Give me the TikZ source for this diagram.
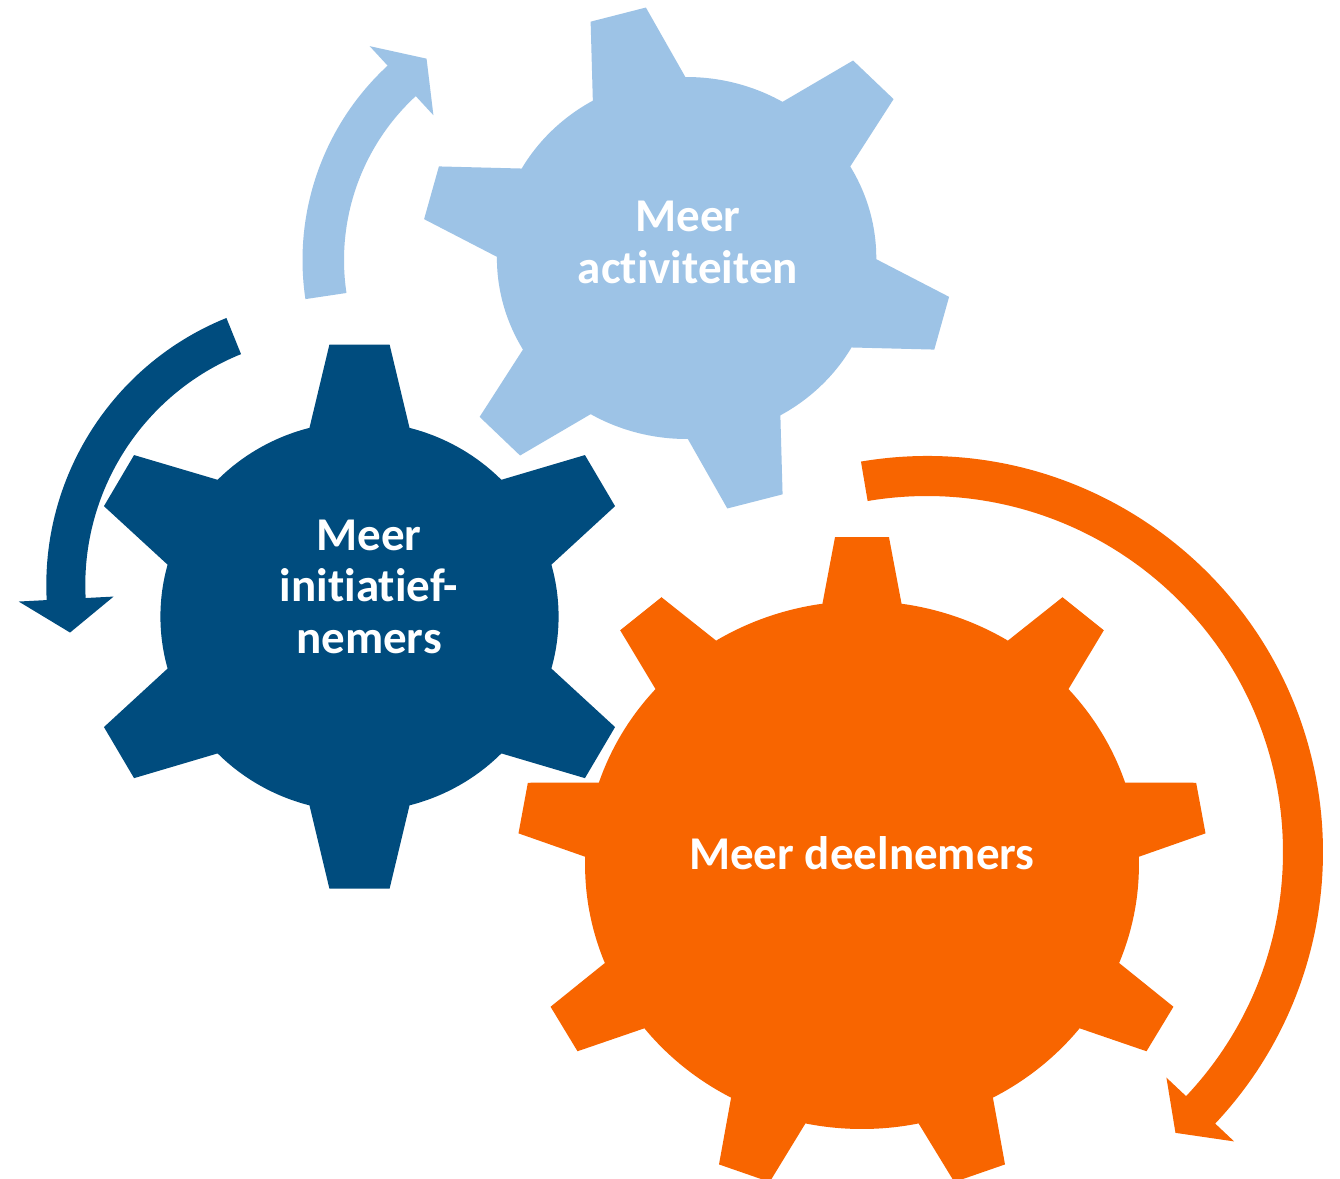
\documentclass[tikz,border=0pt]{standalone}
\usepackage{fontspec}
\setmainfont{Carlito}[Ligatures=NoCommon]
\definecolor{lightgear}{HTML}{9DC3E6}
\definecolor{darkgear}{HTML}{004C7E}
\definecolor{orangegear}{HTML}{F86500}
% #1 colour, #2 teeth, #3 first tooth angle, #4 outer radius, #5 body radius, #6 tip half width, #7 base half width
\newcommand{\drawgear}[7]{%
  \pgfmathsetmacro{\gA}{asin(#7/#5)}%
  \pgfmathsetmacro{\gB}{atan(#6/#4)}%
  \pgfmathsetmacro{\gT}{100*veclen(#4/100,#6/100)}%
  \pgfmathsetmacro{\gS}{360/#2}%
  \fill[#1] ({#3-\gA}:#5)
    \foreach \k in {1,...,#2} {
      -- ({#3+(\k-1)*\gS-\gB}:\gT) -- ({#3+(\k-1)*\gS+\gB}:\gT) -- ({#3+(\k-1)*\gS+\gA}:#5)
      arc[start angle={#3+(\k-1)*\gS+\gA}, end angle={#3+\k*\gS-\gA}, radius=#5]
    } -- cycle;
}
% #1 colour, #2 outer r, #3 inner r, #4 start angle, #5 end angle, #6 outer wing r, #7 inner wing r, #8 tip angle, #9 tip r
\newcommand{\drawarc}[9]{%
  \fill[#1] (#4:#2) arc[start angle=#4, end angle=#5, radius=#2]
    -- (#5:#6) -- (#8:#9) -- (#5:#7) -- (#5:#3)
    arc[start angle=#5, end angle=#4, radius=#3] -- cycle;
}
\tikzset{gearlabel/.style={text=white, font=\bfseries\fontsize{23.5}{25.8}\selectfont, align=center, inner sep=0pt, anchor=base}}
\begin{document}
\begin{tikzpicture}[x=0.5pt, y=0.5pt]
\useasboundingbox (0,0) rectangle (1340,-1179);
\fill[white] (0,0) rectangle (1340,-1179);
% gears
\begin{scope}[shift={(686.6,-258)}, xscale=1.048]
  \drawgear{lightgear}{6}{105}{252}{181}{27.3}{45.7}
\end{scope}
\begin{scope}[shift={(359.5,-616.6)}, xscale=1.021]
  \drawgear{darkgear}{6}{90}{272}{195}{29.5}{49}
\end{scope}
\begin{scope}[shift={(862,-865)}, xscale=1.049]
  \drawgear{orangegear}{9}{90}{328}{264}{25.7}{37.7}
\end{scope}
% arrows
\begin{scope}[shift={(567,-260)}]
  \drawarc{lightgear}{264.5}{223}{188.5}{132.7}{291}{197}{124.9}{245.5}
\end{scope}
\begin{scope}[shift={(334.3,-585)}]
  \drawarc{darkgear}{288}{249}{112}{183}{316}{221}{190.2}{268.5}
\end{scope}
\begin{scope}[shift={(927,-852)}]
  \drawarc{orangegear}{396}{356}{99.6}{-43.3}{422}{329}{-48.5}{375}
\end{scope}
% labels (base anchor = baseline of the last line)
\node[gearlabel] (lblact) at (688,-283.5) {Meer\\activiteiten};
\node[gearlabel] (lblini) at (369,-653.5) {Meer\\initiatief-\\nemers};
\node[gearlabel] (lbldeel) at (862,-869) {Meer deelnemers};
\end{tikzpicture}
\end{document}
